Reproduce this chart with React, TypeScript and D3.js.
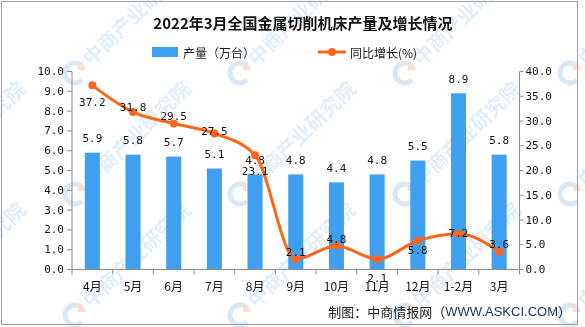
import React from "react";
import * as d3 from "d3";

const categories = ["4月", "5月", "6月", "7月", "8月", "9月", "10月", "11月", "12月", "1-2月", "3月"];
const output = [5.9, 5.8, 5.7, 5.1, 4.8, 4.8, 4.4, 4.8, 5.5, 8.9, 5.8];
const growth = [37.2, 31.8, 29.5, 27.5, 23.1, 2.1, 4.8, 2.1, 5.8, 7.2, 3.6];
const leftTicks = [0, 1, 2, 3, 4, 5, 6, 7, 8, 9, 10];
const rightTicks = [0, 5, 10, 15, 20, 25, 30, 35, 40];
const growthLabelDy = [17, -5, -7, -2, 16, -7, -6, 19, 10, 0, -7];

const W = 585;
const H = 327;
const BLUE = "#3f9ff0";
const ORANGE = "#ff661a";
const NUM_FONT = "'DejaVu Sans Mono', 'Noto Sans CJK SC', monospace";
const CJK_FONT = "'Noto Sans CJK SC', 'Noto Sans', sans-serif";

export default function App() {
  const left = 72;
  const right = 519.5;
  const top = 71.5;
  const bottom = 269.5;

  const x = d3.scaleBand<string>().domain(categories).range([left, right]).padding(0);
  const yL = d3.scaleLinear().domain([0, 10]).range([bottom, top]);
  const yR = d3.scaleLinear().domain([0, 40]).range([bottom, top]);
  const bw = x.bandwidth() * 0.37;
  const cx = (c: string) => (x(c) as number) + x.bandwidth() / 2;

  const line = d3
    .line<number>()
    .x((_, i) => cx(categories[i]))
    .y((d) => yR(d))
    .curve(d3.curveMonotoneX);

  // watermarks
  const marks: { x: number; y: number }[] = [];
  for (let i = -1; i < 4; i++) {
    for (let j = -1; j < 3; j++) {
      marks.push({ x: 75 + 165 * i, y: 73 + 121 * j });
    }
  }

  return (
    <svg
      width={W}
      height={H}
      style={{ position: "absolute", left: 0, top: 0, background: "#fff" }}
    >
      <rect x={0} y={0} width={W} height={H} fill="#fff" />
      {/* watermarks */}
      <g opacity={0.55}>
        {marks.map((m, i) => (
          <g key={i} transform={`translate(${m.x},${m.y})`}>
            <circle r={10} fill="none" stroke="#b9d5ec" strokeWidth={5} />
            <path d="M0,0 L10,-10 A14,14 0 0,1 10,10 Z" fill="#fff" />
            <path d="M3,-3 L11,-3 A11,11 0 0,0 3,-11 Z" fill="#f7c2ae" />
            <text
              transform="rotate(-44) translate(16,7)"
              fontFamily={CJK_FONT}
              fontWeight="bold"
              fontSize={20}
              fill="#c9dff0"
            >
              中商产业研究院
            </text>
          </g>
        ))}
      </g>
      <rect x={1.5} y={1.5} width={576} height={323} fill="none" stroke="#a0a0a0" strokeWidth={1} />

      {/* title */}
      <text
        x={303}
        y={22}
        textAnchor="middle"
        dominantBaseline="central"
        fontFamily={CJK_FONT}
        fontWeight="bold"
        fontSize={15}
        fill="#111"
      >
        2022年3月全国金属切削机床产量及增长情况
      </text>

      {/* legend */}
      <rect x={152} y={47} width={26} height={10} fill={BLUE} />
      <text x={183} y={52} dominantBaseline="central" fontFamily={CJK_FONT} fontSize={12} fill="#222">
        产量（万台）
      </text>
      <line x1={318} x2={346} y1={52} y2={52} stroke={ORANGE} strokeWidth={3} />
      <circle cx={332} cy={52} r={4} fill={ORANGE} />
      <text x={350} y={52} dominantBaseline="central" fontFamily={CJK_FONT} fontSize={12} fill="#222">
        同比增长(%)
      </text>

      {/* bars */}
      {output.map((v, i) => (
        <rect
          key={i}
          x={cx(categories[i]) - bw / 2}
          y={yL(v)}
          width={bw}
          height={bottom - yL(v)}
          fill={BLUE}
        />
      ))}
      {output.map((v, i) => (
        <text
          key={"bl" + i}
          x={cx(categories[i])}
          y={yL(v) - 14}
          textAnchor="middle"
          dominantBaseline="central"
          fontFamily={NUM_FONT}
          fontSize={11}
          fill="#111"
        >
          {v.toFixed(1)}
        </text>
      ))}

      {/* axes */}
      <g stroke="#8c8c8c" strokeWidth={1} fill="none">
        <line x1={left} x2={left} y1={top} y2={bottom} />
        <line x1={right} x2={right} y1={top} y2={bottom} />
        <line x1={left} x2={right} y1={bottom} y2={bottom} />
        {leftTicks.map((t) => (
          <line key={"lt" + t} x1={left - 5} x2={left} y1={yL(t)} y2={yL(t)} />
        ))}
        {rightTicks.map((t) => (
          <line key={"rt" + t} x1={right} x2={right + 4} y1={yR(t)} y2={yR(t)} />
        ))}
        {categories.map((c) => (
          <line key={"xt" + c} x1={x(c) as number} x2={x(c) as number} y1={bottom} y2={bottom + 5} />
        ))}
        <line x1={right} x2={right} y1={bottom} y2={bottom + 5} />
      </g>
      {leftTicks.map((t) => (
        <text
          key={"ll" + t}
          x={left - 8}
          y={yL(t)}
          textAnchor="end"
          dominantBaseline="central"
          fontFamily={NUM_FONT}
          fontSize={11}
          fill="#111"
        >
          {t.toFixed(1)}
        </text>
      ))}
      {rightTicks.map((t) => (
        <text
          key={"rl" + t}
          x={right + 6}
          y={yR(t)}
          dominantBaseline="central"
          fontFamily={NUM_FONT}
          fontSize={11}
          fill="#111"
        >
          {t.toFixed(1)}
        </text>
      ))}
      {categories.map((c) => (
        <text
          key={"xl" + c}
          x={cx(c)}
          y={285}
          textAnchor="middle"
          dominantBaseline="central"
          fontFamily={CJK_FONT}
          fontSize={12}
          fill="#111"
        >
          {c}
        </text>
      ))}

      {/* line */}
      <path d={line(growth) || ""} fill="none" stroke={ORANGE} strokeWidth={3} />
      {growth.map((v, i) => (
        <circle key={"p" + i} cx={cx(categories[i])} cy={yR(v)} r={4} fill={ORANGE} />
      ))}
      {growth.map((v, i) => (
        <text
          key={"gl" + i}
          x={cx(categories[i])}
          y={yR(v) + growthLabelDy[i]}
          textAnchor="middle"
          dominantBaseline="central"
          fontFamily={NUM_FONT}
          fontSize={11}
          fill="#111"
        >
          {v.toFixed(1)}
        </text>
      ))}

      {/* source */}
      <text
        x={571}
        y={311}
        textAnchor="end"
        dominantBaseline="central"
        fontFamily={CJK_FONT}
        fontSize={13}
        fill="#222"
      >
        制图：中商情报网（<tspan fontFamily="'Liberation Sans', Arial, sans-serif" fill="#1b2f5e">WWW.ASKCI.COM</tspan>）
      </text>
    </svg>
  );
}
